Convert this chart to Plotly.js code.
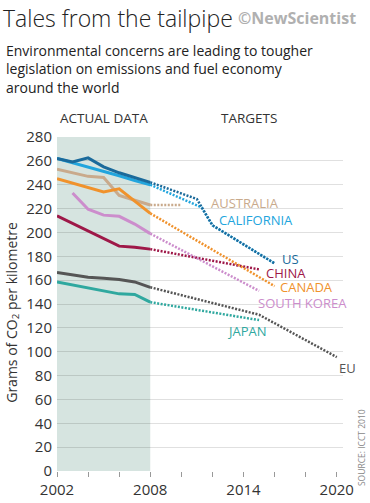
<!DOCTYPE html>
<html>
<head>
<meta charset="utf-8">
<script src="https://cdn.plot.ly/plotly-3.0.1.min.js"></script>
<style>
  html, body { margin: 0; padding: 0; background: #fff; }
  #chart { width: 370px; height: 503px; }
</style>
</head>
<body>
<div id="chart"></div>
<script>
// ---- Data ----
const actualYears = [2002, 2003, 2004, 2005, 2006, 2007, 2008];
const koreaYears  = [2003, 2004, 2005, 2006, 2007, 2008];

const usActual         = [262, 259, 262.5, 255, 250, 246, 242];
const californiaActual = [262, 258.5, 255, 251, 247.5, 243.5, 240];
const australiaActual  = [253, 250, 247, 246, 231, 227, 223];
const canadaActual     = [245, 241.5, 238, 234, 236.5, 226, 216];
const koreaActual      = [233, 219.5, 214.5, 213.5, 207, 199];
const chinaActual      = [214, 207.5, 201, 194.5, 188.5, 187.5, 186];
const euActual         = [166.5, 164.5, 162.5, 161.5, 160.5, 158.5, 154];
const japanActual      = [158.5, 156, 153.5, 151.5, 148.5, 148, 141.5];

const usTargetYears = [2008, 2011, 2012, 2016];
const usTarget      = [242, 228, 206, 174];
const californiaTargetYears = [2008, 2011.3, 2012, 2016];
const californiaTarget      = [240, 221, 206, 174];
const australiaTargetYears = [2008, 2010];
const australiaTarget      = [223, 223];
const canadaTargetYears = [2008, 2016];
const canadaTarget      = [216, 155];
const koreaTargetYears = [2008, 2015];
const koreaTarget      = [199, 151];
const chinaTargetYears = [2008, 2015];
const chinaTarget      = [186, 169];
const euTargetYears = [2008, 2015, 2020];
const euTarget      = [154, 131, 95.5];
const japanTargetYears = [2008, 2015];
const japanTarget      = [141.5, 126.5];

const xTickVals  = [2002, 2004, 2006, 2008, 2010, 2012, 2014, 2016, 2018, 2020];
const xTickText  = ['2002', '', '', '2008', '', '', '2014', '', '', '2020'];
const yTickVals  = [0, 20, 40, 60, 80, 100, 120, 140, 160, 180, 200, 220, 240, 260, 280];

// ---- Styles ----
const series = [
  {name: 'JAPAN',       color: '#2fa89f', ax: actualYears, ay: japanActual,     tx: japanTargetYears,     ty: japanTarget,     lx: 2012.82, ly: 117.3},
  {name: 'EU',          color: '#555555', ax: actualYears, ay: euActual,        tx: euTargetYears,        ty: euTarget,        lx: 2020.03, ly: 86.0},
  {name: 'CHINA',       color: '#9e1848', ax: actualYears, ay: chinaActual,     tx: chinaTargetYears,     ty: chinaTarget,     lx: 2015.34, ly: 165.6},
  {name: 'SOUTH KOREA', color: '#cc8dcc', ax: koreaYears,  ay: koreaActual,     tx: koreaTargetYears,     ty: koreaTarget,     lx: 2014.82, ly: 141.0},
  {name: 'AUSTRALIA',   color: '#c9aa8c', ax: actualYears, ay: australiaActual, tx: australiaTargetYears, ty: australiaTarget, lx: 2011.79, ly: 224.5},
  {name: 'CANADA',      color: '#f0922c', ax: actualYears, ay: canadaActual,    tx: canadaTargetYears,    ty: canadaTarget,    lx: 2016.24, ly: 153.9},
  {name: 'CALIFORNIA',  color: '#22a5dd', ax: actualYears, ay: californiaActual,tx: californiaTargetYears,ty: californiaTarget,lx: 2012.30, ly: 210.2},
  {name: 'US',          color: '#1b6a9b', ax: actualYears, ay: usActual,        tx: usTargetYears,        ty: usTarget,        lx: 2016.37, ly: 178.1}
];

const FONT = 'Open Sans, Noto Sans, sans-serif';
const traces = [];
series.forEach(s => {
  traces.push({x: s.tx, y: s.ty, type: 'scatter', mode: 'lines', hoverinfo: 'skip', showlegend: false,
               line: {color: s.color, width: 2.5, dash: '2px,1.5px'}});
});
series.forEach(s => {
  traces.push({x: s.ax, y: s.ay, type: 'scatter', mode: 'lines', hoverinfo: 'skip', showlegend: false,
               line: {color: s.color, width: 3}});
});

const annotations = series.map(s => ({
  x: s.lx, y: s.ly, xref: 'x', yref: 'y', text: s.name, showarrow: false,
  xanchor: 'left', yanchor: 'middle', font: {family: FONT, size: 13, color: s.color}
}));

function pap(py) { return (471 - py) / 334.3; }
function papx(px) { return (px - 57.3) / 285.7; }

annotations.push(
  {xref: 'paper', yref: 'paper', x: papx(236), y: pap(18), xanchor: 'left', yanchor: 'middle', showarrow: false,
   text: '©NewScientist', font: {family: FONT, size: 16, color: '#b0b0b0', weight: 'bold'}},
  {xref: 'paper', yref: 'paper', x: papx(4), y: pap(50), xanchor: 'left', yanchor: 'middle', showarrow: false,
   text: 'Environmental concerns are leading to tougher', font: {family: FONT, size: 14, color: '#222'}},
  {xref: 'paper', yref: 'paper', x: papx(4), y: pap(68), xanchor: 'left', yanchor: 'middle', showarrow: false,
   text: 'legislation on emissions and fuel economy', font: {family: FONT, size: 14, color: '#222'}},
  {xref: 'paper', yref: 'paper', x: papx(4), y: pap(87), xanchor: 'left', yanchor: 'middle', showarrow: false,
   text: 'around the world', font: {family: FONT, size: 14, color: '#222'}},
  {xref: 'x', yref: 'paper', x: 2005, y: pap(118), xanchor: 'center', yanchor: 'middle', showarrow: false,
   text: 'ACTUAL DATA', font: {family: FONT, size: 13.5, color: '#333'}},
  {xref: 'x', yref: 'paper', x: 2014.36, y: pap(118), xanchor: 'center', yanchor: 'middle', showarrow: false,
   text: 'TARGETS', font: {family: FONT, size: 13.5, color: '#333'}},
  {xref: 'paper', yref: 'paper', x: papx(12), y: pap(312), xanchor: 'center', yanchor: 'middle', showarrow: false,
   textangle: -90, text: 'Grams of CO<sub>2</sub> per kilometre', font: {family: FONT, size: 14, color: '#333'}},
  {xref: 'paper', yref: 'paper', x: papx(361), y: pap(448), xanchor: 'center', yanchor: 'middle', showarrow: false,
   textangle: -90, text: 'SOURCE: ICCT 2010', font: {family: FONT, size: 8.5, color: '#888'}}
);

const layout = {
  width: 370, height: 503,
  margin: {l: 57.3, r: 27, t: 136.7, b: 32.0, pad: 0},
  paper_bgcolor: '#fff', plot_bgcolor: '#fff',
  showlegend: false,
  title: {text: 'Tales from the tailpipe', xref: 'container', yref: 'container',
          x: 3 / 370, xanchor: 'left', y: 1 - 19 / 503, yanchor: 'middle',
          font: {family: FONT, size: 23, color: '#222', weight: 300}},
  xaxis: {range: [2002, 2020.4], tickmode: 'array', tickvals: xTickVals, ticktext: xTickText,
          showgrid: false, zeroline: false, showline: false,
          ticks: 'outside', ticklen: 5, tickcolor: '#999', tickwidth: 1,
          tickfont: {family: FONT, size: 15, color: '#333'}, fixedrange: true},
  yaxis: {range: [0, 280], tickvals: yTickVals, showgrid: true, gridcolor: 'rgba(0,0,0,0.12)', gridwidth: 1,
          zeroline: false, showline: false, ticks: '', ticklabelstandoff: 4,
          tickfont: {family: FONT, size: 15, color: '#333'}, fixedrange: true},
  shapes: [{type: 'rect', xref: 'x', yref: 'y', x0: 2002, x1: 2008, y0: 0, y1: 280,
            fillcolor: '#d6e4e0', line: {width: 0}, layer: 'below'}],
  annotations: annotations
};

Plotly.newPlot('chart', traces, layout, {staticPlot: true, displayModeBar: false});
</script>
</body>
</html>
